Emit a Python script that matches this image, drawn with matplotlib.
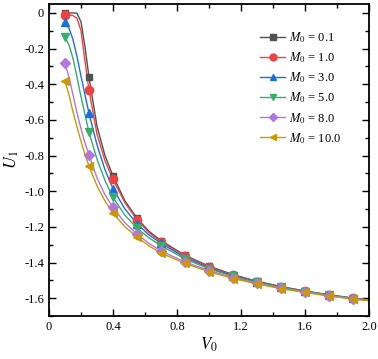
import numpy as np
import matplotlib.pyplot as plt
from matplotlib.ticker import MultipleLocator

plt.rcParams["font.family"] = ["Liberation Serif", "DejaVu Serif"]
plt.rcParams["mathtext.fontset"] = "stix"
plt.rcParams["axes.unicode_minus"] = False

# V0 grid for the curves, markers every 0.15 from 0.1
v_line = [0.10, 0.125, 0.15, 0.175, 0.20, 0.225, 0.25, 0.30, 0.35, 0.40, 0.475,
          0.55, 0.625, 0.70, 0.85, 1.00, 1.15, 1.30, 1.45, 1.60, 1.75, 1.90, 2.00]
v_mark = [0.10, 0.25, 0.40, 0.55, 0.70, 0.85, 1.00, 1.15, 1.30, 1.45, 1.60, 1.75, 1.90]

u_m01 = [0.0, 0.0, 0.0, -0.002, -0.05, -0.19, -0.36, -0.635, -0.80, -0.915, -1.055,
         -1.152, -1.225, -1.277, -1.36, -1.42, -1.468, -1.505, -1.535, -1.56, -1.581, -1.60, -1.61]
u_m1 = [-0.01, -0.011, -0.015, -0.03, -0.10, -0.27, -0.434, -0.68, -0.83, -0.934, -1.065,
        -1.16, -1.232, -1.283, -1.364, -1.424, -1.47, -1.507, -1.536, -1.561, -1.582, -1.60, -1.61]
u_m3 = [-0.053, -0.085, -0.15, -0.245, -0.355, -0.46, -0.563, -0.74, -0.88, -0.986, -1.10,
        -1.183, -1.245, -1.292, -1.372, -1.43, -1.474, -1.51, -1.538, -1.562, -1.583, -1.601, -1.611]
u_m5 = [-0.137, -0.18, -0.255, -0.36, -0.47, -0.57, -0.67, -0.82, -0.94, -1.035, -1.135,
        -1.207, -1.262, -1.305, -1.38, -1.435, -1.478, -1.512, -1.54, -1.563, -1.584, -1.602, -1.612]
u_m8 = [-0.282, -0.36, -0.46, -0.56, -0.65, -0.73, -0.795, -0.925, -1.02, -1.09, -1.178,
        -1.24, -1.293, -1.335, -1.397, -1.445, -1.485, -1.516, -1.544, -1.566, -1.586, -1.604, -1.613]
u_m10 = [-0.38, -0.46, -0.555, -0.64, -0.72, -0.795, -0.86, -0.97, -1.055, -1.123, -1.20,
         -1.257, -1.307, -1.347, -1.405, -1.452, -1.49, -1.52, -1.547, -1.568, -1.588, -1.605, -1.614]

labels = ["0.1", "1.0", "3.0", "5.0", "8.0", "10.0"]
series = [u_m01, u_m1, u_m3, u_m5, u_m8, u_m10]
colors = ["#515151", "#F14040", "#1A6FDF", "#37AD6B", "#B177DE", "#CC9900"]
markers = ["s", "o", "^", "v", "D", "<"]
msizes = [5, 6, 6, 6, 5, 6]

fig = plt.figure(figsize=(3.78, 3.59), dpi=100)
ax = fig.add_axes([0.1296, 0.1198, 0.8466, 0.8691])

v_line = np.array(v_line)
for u, lab, c, m, ms in zip(series, labels, colors, markers, msizes):
    u = np.array(u)
    idx = [np.argmin(np.abs(v_line - v)) for v in v_mark]
    ax.plot(v_line, u, color=c, lw=1.0, zorder=2)
    ax.plot(v_line[idx], u[idx], ls="none", marker=m, ms=ms, color=c, zorder=3)
    ax.plot([], [], color=c, lw=1.0, marker=m, ms=ms - 1,
            label=r"$M_0$ = " + lab)

ax.set_xlim(0, 2.0)
ax.set_ylim(-1.7, 0.05)
ax.xaxis.set_major_locator(MultipleLocator(0.4))
ax.xaxis.set_minor_locator(MultipleLocator(0.2))
ax.yaxis.set_major_locator(MultipleLocator(0.2))
ax.yaxis.set_minor_locator(MultipleLocator(0.1))
ax.set_xticklabels([]) if False else None
ax.tick_params(which="both", direction="in", top=True, right=True, labelsize=9, width=1.0)
ax.tick_params(which="major", length=5)
ax.tick_params(which="minor", length=3)
for s in ax.spines.values():
    s.set_linewidth(1.3)

ax.yaxis.set_major_formatter(plt.FuncFormatter(lambda y, p: "0" if abs(y) < 1e-9 else f"{y:.1f}"))
ax.xaxis.set_major_formatter(plt.FuncFormatter(lambda x, p: "0" if abs(x) < 1e-9 else f"{x:.1f}"))

ax.set_xlabel(r"$V_0$", fontsize=12, labelpad=2)
ax.set_ylabel(r"$U_1$", fontsize=12, labelpad=2)

ax.legend(loc="upper left", bbox_to_anchor=(0.66, 0.915), frameon=False, fontsize=9,
          handlelength=2.0, handletextpad=0.3, labelspacing=0.42, borderpad=0,
          borderaxespad=0)

fig.savefig("out.png", dpi=100)
